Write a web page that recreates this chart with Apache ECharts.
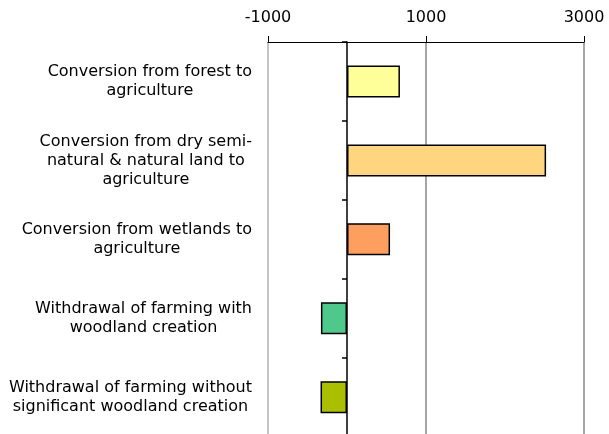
<!DOCTYPE html>
<html><head><meta charset="utf-8">
<script src="https://cdn.jsdelivr.net/npm/echarts@6/dist/echarts.min.js"></script>
<style>html,body{margin:0;padding:0;background:#fff}#c{width:609px;height:434px}</style>
</head><body><div id="c"></div>
<script>
const categories = [
  'Conversion from forest to\nagriculture',
  'Conversion from dry semi-\nnatural & natural land to\nagriculture',
  'Conversion from wetlands to\nagriculture',
  'Withdrawal of farming with\nwoodland creation',
  'Withdrawal of farming without\nsignificant woodland creation'
];
const values = [670, 2520, 545, -330, -335];
const barColors = ['#ffff99', '#ffd580', '#ff9f5f', '#4fc98b', '#aabf00'];
const xMin = -1000, xMax = 3000, xStep = 2000;

const FONT = 'DejaVu Sans';
const chart = echarts.init(document.getElementById('c'), null, {renderer: 'canvas'});
chart.setOption({
  animation: false,
  backgroundColor: '#fff',
  grid: {left: 268, right: 25, top: 42, bottom: -2.6, containLabel: false, outerBoundsMode: 'none'},
  xAxis: {
    type: 'value', position: 'top', min: xMin, max: xMax, interval: xStep,
    axisLine: {show: true, onZero: false, lineStyle: {color: '#000', width: 1}},
    axisTick: {show: true, length: 6, lineStyle: {color: '#000'}},
    axisLabel: {color: '#000', fontFamily: FONT, fontSize: 16, margin: 16,
      formatter: function (v) { return String(v); }},
    splitLine: {show: true, lineStyle: {color: ['#b0b0b0', '#888', '#888'], width: 1.5}}
  },
  yAxis: [{
    type: 'category', data: categories, inverse: true, position: 'left',
    axisLine: {show: false, onZero: false}, axisTick: {show: false},
    axisLabel: {
      margin: 16, align: 'right',
      formatter: function (v) {
        return v.split('\n').map(function (l) { return '{c|' + l + '}'; }).join('\n');
      },
      rich: {c: {align: 'center', fontFamily: FONT, fontSize: 16, color: '#000', lineHeight: 19}}
    }
  }, {
    type: 'category', data: categories, inverse: true, position: 'left',
    axisLine: {show: true, onZero: true, lineStyle: {color: '#000', width: 1.5}},
    axisTick: {show: true, length: 5, lineStyle: {color: '#000', width: 1.5}},
    axisLabel: {show: false}
  }],
  series: [{
    type: 'bar', yAxisIndex: 0, barWidth: 32,
    data: values.map(function (v, i) {
      return {value: v, itemStyle: {color: barColors[i]}};
    }),
    itemStyle: {borderColor: '#000', borderWidth: 1.5}
  }]
});
</script></body></html>
